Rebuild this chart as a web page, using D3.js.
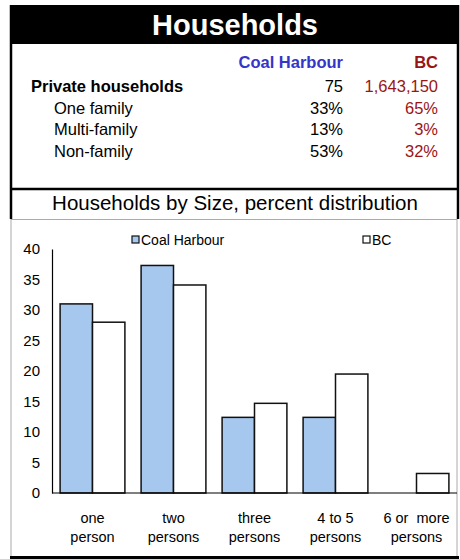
<!DOCTYPE html>
<html>
<head>
<meta charset="utf-8">
<script src="https://cdn.jsdelivr.net/npm/d3@7/dist/d3.min.js"></script>
<style>
  body { margin: 0; background: #fff; }
  svg { display: block; font-family: "Liberation Sans", Arial, sans-serif; }
</style>
</head>
<body>
<svg id="chart" width="460" height="559"></svg>
<script>
// table data
const rowLabels = ["Private households", "One family", "Multi-family", "Non-family"]
const coalValues = ["75", "33%", "13%", "53%"]
const bcValues = ["1,643,150", "65%", "3%", "32%"]

// chart data
const categories = [["one", "person"], ["two", "persons"], ["three", "persons"], ["4 to 5", "persons"], ["6 or  more", "persons"]]
const seriesNames = ["Coal Harbour", "BC"]
const coalHarbour = [31, 37.3, 12.4, 12.4, 0]
const bc = [28, 34.1, 14.7, 19.5, 3.2]
const yTicks = [0, 5, 10, 15, 20, 25, 30, 35, 40]

const svg = d3.select("#chart")

// header band
svg.append("rect").attr("x", 10).attr("y", 5).attr("width", 449).attr("height", 39).attr("fill", "#000")
svg.append("text").attr("x", 235).attr("y", 35).attr("text-anchor", "middle")
    .attr("fill", "#fff").attr("font-weight", "bold").attr("font-size", 29).text("Households")

// outer borders
svg.append("line").attr("x1", 11).attr("x2", 11).attr("y1", 5).attr("y2", 219).attr("stroke", "#000").attr("stroke-width", 2.5)
svg.append("line").attr("x1", 458).attr("x2", 458).attr("y1", 5).attr("y2", 219).attr("stroke", "#000").attr("stroke-width", 2.5)
svg.append("line").attr("x1", 10).attr("x2", 459).attr("y1", 189).attr("y2", 189).attr("stroke", "#000").attr("stroke-width", 2.5)
// chart area box (grey)
svg.append("rect").attr("x", 11).attr("y", 219.5).attr("width", 446).attr("height", 337)
    .attr("fill", "none").attr("stroke", "#aaa").attr("stroke-width", 1)
svg.append("line").attr("x1", 10).attr("x2", 459).attr("y1", 557.5).attr("y2", 557.5).attr("stroke", "#000").attr("stroke-width", 3)

// table
const blue = "#3535c8", red = "#9b1414"
const tableFont = 16.5
svg.append("text").attr("x", 343).attr("y", 68).attr("text-anchor", "end")
    .attr("font-weight", "bold").attr("font-size", tableFont).attr("fill", blue).text(seriesNames[0])
svg.append("text").attr("x", 438).attr("y", 68).attr("text-anchor", "end")
    .attr("font-weight", "bold").attr("font-size", tableFont).attr("fill", red).text(seriesNames[1])

const rowY = [92, 114, 135, 157]
rowLabels.forEach(function(lab, i){
    svg.append("text").attr("x", i == 0 ? 31 : 54).attr("y", rowY[i])
        .attr("font-weight", i == 0 ? "bold" : "normal").attr("font-size", tableFont).attr("fill", "#000").text(lab)
    svg.append("text").attr("x", 343).attr("y", rowY[i]).attr("text-anchor", "end")
        .attr("font-size", tableFont).attr("fill", "#000").text(coalValues[i])
    svg.append("text").attr("x", 438).attr("y", rowY[i]).attr("text-anchor", "end")
        .attr("font-size", tableFont).attr("fill", red).text(bcValues[i])
})

// subtitle
svg.append("text").attr("x", 235).attr("y", 210).attr("text-anchor", "middle")
    .attr("font-size", 20.5).attr("fill", "#000").text("Households by Size, percent distribution")

// chart
const x = d3.scaleBand().domain(d3.range(categories.length)).range([52, 457]).paddingInner(0.2).paddingOuter(0.1)
const x1 = d3.scaleBand().domain(seriesNames).range([0, x.bandwidth()])
const y = d3.scaleLinear().domain([0, 40]).range([493, 249])

const yAxis = svg.append("g").attr("transform", "translate(52,0)")
    .call(d3.axisLeft(y).tickValues(yTicks).tickSize(0).tickPadding(12))
yAxis.select(".domain").attr("stroke", "#000").attr("stroke-width", 1.2)
yAxis.selectAll("text").attr("font-size", 15).attr("fill", "#000")
    .attr("font-family", "'Liberation Sans', Arial, sans-serif")

const fills = { "Coal Harbour": "#a7c8ee", "BC": "#fff" }
const groups = svg.append("g").selectAll("g").data(categories).join("g")
    .attr("transform", function(d, i){ return "translate(" + x(i) + ",0)" })
groups.selectAll("rect").data(function(d, i){
        return [{ s: "Coal Harbour", v: coalHarbour[i] }, { s: "BC", v: bc[i] }]
    }).join("rect")
    .filter(function(d){ return d.v > 0 })
    .attr("x", function(d){ return x1(d.s) })
    .attr("y", function(d){ return y(d.v) })
    .attr("width", x1.bandwidth())
    .attr("height", function(d){ return y(0) - y(d.v) })
    .attr("fill", function(d){ return fills[d.s] })
    .attr("stroke", "#111").attr("stroke-width", 1.5)

// baseline
svg.append("line").attr("x1", 52).attr("x2", 457).attr("y1", y(0)).attr("y2", y(0))
    .attr("stroke", "#000").attr("stroke-width", 1.2)

// x labels
categories.forEach(function(c, i){
    const t = svg.append("text").attr("text-anchor", "middle").attr("font-size", 14.5).attr("fill", "#000")
        .attr("xml:space", "preserve").style("white-space", "pre")
    c.forEach(function(line, j){
        t.append("tspan").attr("x", x(i) + x.bandwidth() / 2).attr("y", 523 + j * 19).text(line)
    })
})

// legend
const legendX = [132, 363]
seriesNames.forEach(function(s, i){
    svg.append("rect").attr("x", legendX[i]).attr("y", 236).attr("width", 7).attr("height", 7)
        .attr("fill", fills[s]).attr("stroke", "#111").attr("stroke-width", 1.2)
    svg.append("text").attr("x", legendX[i] + 9).attr("y", 244.5).attr("font-size", 14).attr("fill", "#000").text(s)
})
</script>
</body>
</html>
